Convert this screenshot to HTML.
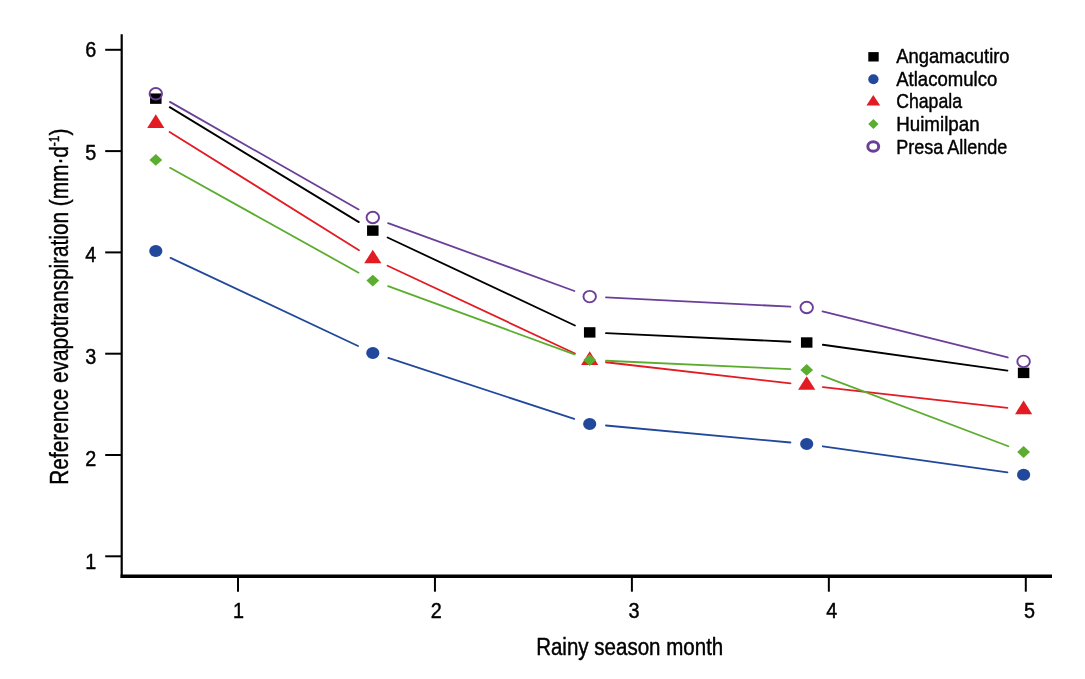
<!DOCTYPE html>
<html lang="en"><head><meta charset="utf-8"><title>Reference evapotranspiration by rainy season month</title>
<style>html,body{margin:0;padding:0;background:#fff}svg{display:block}text{font-family:"Liberation Sans",sans-serif;fill:#000;stroke:#000;stroke-width:0.45px;stroke-linejoin:round}</style>
</head><body>
<svg width="1085" height="679" viewBox="0 0 1085 679">
<rect width="1085" height="679" fill="#fff"/>
<g stroke="#000" fill="none">
<line x1="121.7" y1="34.2" x2="121.7" y2="577.9" stroke-width="2.2"/>
<line x1="120.6" y1="576.25" x2="1052" y2="576.25" stroke-width="3.3"/>
<line x1="105.2" y1="49.80" x2="121" y2="49.80" stroke-width="2"/>
<line x1="105.2" y1="151.10" x2="121" y2="151.10" stroke-width="2"/>
<line x1="105.2" y1="252.40" x2="121" y2="252.40" stroke-width="2"/>
<line x1="105.2" y1="353.70" x2="121" y2="353.70" stroke-width="2"/>
<line x1="105.2" y1="455.00" x2="121" y2="455.00" stroke-width="2"/>
<line x1="105.2" y1="556.30" x2="121" y2="556.30" stroke-width="2"/>
<line x1="238.00" y1="577" x2="238.00" y2="591.7" stroke-width="2"/>
<line x1="434.95" y1="577" x2="434.95" y2="591.7" stroke-width="2"/>
<line x1="631.90" y1="577" x2="631.90" y2="591.7" stroke-width="2"/>
<line x1="828.85" y1="577" x2="828.85" y2="591.7" stroke-width="2"/>
<line x1="1025.80" y1="577" x2="1025.80" y2="591.7" stroke-width="2"/>
</g>
<text transform="translate(96.3,57.35) scale(0.88,1)" font-size="22.5" text-anchor="end">6</text>
<text transform="translate(96.3,159.60) scale(0.88,1)" font-size="22.5" text-anchor="end">5</text>
<text transform="translate(96.3,261.85) scale(0.88,1)" font-size="22.5" text-anchor="end">4</text>
<text transform="translate(96.3,364.10) scale(0.88,1)" font-size="22.5" text-anchor="end">3</text>
<text transform="translate(96.3,466.35) scale(0.88,1)" font-size="22.5" text-anchor="end">2</text>
<text transform="translate(96.3,568.60) scale(0.88,1)" font-size="22.5" text-anchor="end">1</text>
<text transform="translate(238.40,617.7) scale(0.88,1)" font-size="22.5" text-anchor="middle">1</text>
<text transform="translate(436.20,617.7) scale(0.88,1)" font-size="22.5" text-anchor="middle">2</text>
<text transform="translate(634.00,617.7) scale(0.88,1)" font-size="22.5" text-anchor="middle">3</text>
<text transform="translate(831.80,617.7) scale(0.88,1)" font-size="22.5" text-anchor="middle">4</text>
<text transform="translate(1029.60,617.7) scale(0.88,1)" font-size="22.5" text-anchor="middle">5</text>
<text transform="translate(629.7,654.5) scale(0.878,1)" font-size="23.4" text-anchor="middle">Rainy season month</text>
<text transform="translate(68,306.6) rotate(-90) scale(0.80,1)" font-size="26" text-anchor="middle">Reference evapotranspiration (mm·d<tspan font-size="15" dy="-9">-1</tspan><tspan dy="9">)</tspan></text>
<g stroke="#000000" stroke-width="1.8" stroke-linecap="round" fill="none">
<line x1="169.73" y1="107.12" x2="358.87" y2="222.13"/>
<line x1="387.56" y1="237.53" x2="574.94" y2="325.47"/>
<line x1="605.98" y1="333.16" x2="790.42" y2="341.74"/>
<line x1="822.84" y1="344.76" x2="1007.46" y2="370.64"/>
</g>
<g stroke="#21489B" stroke-width="1.8" stroke-linecap="round" fill="none">
<line x1="170.55" y1="257.93" x2="358.05" y2="345.97"/>
<line x1="388.29" y1="357.98" x2="574.21" y2="418.92"/>
<line x1="605.93" y1="425.50" x2="790.47" y2="442.50"/>
<line x1="822.84" y1="446.28" x2="1007.46" y2="472.42"/>
</g>
<g stroke="#E31B23" stroke-width="1.8" stroke-linecap="round" fill="none">
<line x1="169.63" y1="132.03" x2="358.97" y2="250.17"/>
<line x1="387.56" y1="265.71" x2="574.94" y2="353.49"/>
<line x1="605.89" y1="362.26" x2="790.51" y2="383.44"/>
<line x1="822.90" y1="387.11" x2="1007.40" y2="407.79"/>
</g>
<g stroke="#5BAD2F" stroke-width="1.8" stroke-linecap="round" fill="none">
<line x1="170.04" y1="167.82" x2="358.56" y2="272.68"/>
<line x1="388.11" y1="286.20" x2="574.39" y2="354.40"/>
<line x1="605.98" y1="360.74" x2="790.42" y2="369.16"/>
<line x1="821.94" y1="375.67" x2="1008.36" y2="446.23"/>
</g>
<g stroke="#6B3F98" stroke-width="1.8" stroke-linecap="round" fill="none">
<line x1="169.96" y1="101.87" x2="358.64" y2="209.43"/>
<line x1="388.11" y1="223.08" x2="574.39" y2="291.02"/>
<line x1="605.98" y1="297.42" x2="790.42" y2="306.68"/>
<line x1="822.52" y1="311.43" x2="1007.78" y2="357.47"/>
</g>
<rect x="150.05" y="93.45" width="11.5" height="10.4" fill="#000"/>
<rect x="367.05" y="225.40" width="11.5" height="10.4" fill="#000"/>
<rect x="583.95" y="327.20" width="11.5" height="10.4" fill="#000"/>
<rect x="800.95" y="337.30" width="11.5" height="10.4" fill="#000"/>
<rect x="1017.85" y="367.70" width="11.5" height="10.4" fill="#000"/>
<ellipse cx="155.80" cy="251.00" rx="6.6" ry="6.0" fill="#21489B"/>
<ellipse cx="372.80" cy="352.90" rx="6.6" ry="6.0" fill="#21489B"/>
<ellipse cx="589.70" cy="424.00" rx="6.6" ry="6.0" fill="#21489B"/>
<ellipse cx="806.70" cy="444.00" rx="6.6" ry="6.0" fill="#21489B"/>
<ellipse cx="1023.60" cy="474.70" rx="6.6" ry="6.0" fill="#21489B"/>
<polygon points="155.80,114.33 164.40,127.93 147.20,127.93" fill="#E31B23"/>
<polygon points="372.80,249.73 381.40,263.33 364.20,263.33" fill="#E31B23"/>
<polygon points="589.70,351.33 598.30,364.93 581.10,364.93" fill="#E31B23"/>
<polygon points="806.70,376.23 815.30,389.83 798.10,389.83" fill="#E31B23"/>
<polygon points="1023.60,400.53 1032.20,414.13 1015.00,414.13" fill="#E31B23"/>
<polygon points="155.80,154.00 162.20,159.90 155.80,165.80 149.40,159.90" fill="#5BAD2F"/>
<polygon points="372.80,274.70 379.20,280.60 372.80,286.50 366.40,280.60" fill="#5BAD2F"/>
<polygon points="589.70,354.10 596.10,360.00 589.70,365.90 583.30,360.00" fill="#5BAD2F"/>
<polygon points="806.70,364.00 813.10,369.90 806.70,375.80 800.30,369.90" fill="#5BAD2F"/>
<polygon points="1023.60,446.10 1030.00,452.00 1023.60,457.90 1017.20,452.00" fill="#5BAD2F"/>
<ellipse cx="155.80" cy="93.80" rx="6.25" ry="5.75" fill="none" stroke="#6B3F98" stroke-width="1.9"/>
<ellipse cx="372.80" cy="217.50" rx="6.25" ry="5.75" fill="none" stroke="#6B3F98" stroke-width="1.9"/>
<ellipse cx="589.70" cy="296.60" rx="6.25" ry="5.75" fill="none" stroke="#6B3F98" stroke-width="1.9"/>
<ellipse cx="806.70" cy="307.50" rx="6.25" ry="5.75" fill="none" stroke="#6B3F98" stroke-width="1.9"/>
<ellipse cx="1023.60" cy="361.40" rx="6.25" ry="5.75" fill="none" stroke="#6B3F98" stroke-width="1.9"/>
<rect x="868.30" y="52.10" width="10.4" height="9.4" fill="#000"/>
<ellipse cx="873.40" cy="79.30" rx="5.15" ry="5.0" fill="#21489B"/>
<polygon points="873.3,95 880.2,105.6 866.4,105.6" fill="#E31B23"/>
<polygon points="873.40,119.00 878.55,124.00 873.40,129.00 868.25,124.00" fill="#5BAD2F"/>
<ellipse cx="873.25" cy="146.45" rx="5.45" ry="4.75" fill="none" stroke="#6B3F98" stroke-width="3"/>
<text transform="translate(896.2,63.2) scale(0.88,1)" font-size="20.9">Angamacutiro</text>
<text transform="translate(896.2,85.7) scale(0.888,1)" font-size="20.9">Atlacomulco</text>
<text transform="translate(896.2,108.3) scale(0.846,1)" font-size="20.9">Chapala</text>
<text transform="translate(896.2,131.3) scale(0.898,1)" font-size="20.9">Huimilpan</text>
<text transform="translate(896.2,153.85) scale(0.862,1)" font-size="20.9">Presa Allende</text>
</svg>
</body></html>
